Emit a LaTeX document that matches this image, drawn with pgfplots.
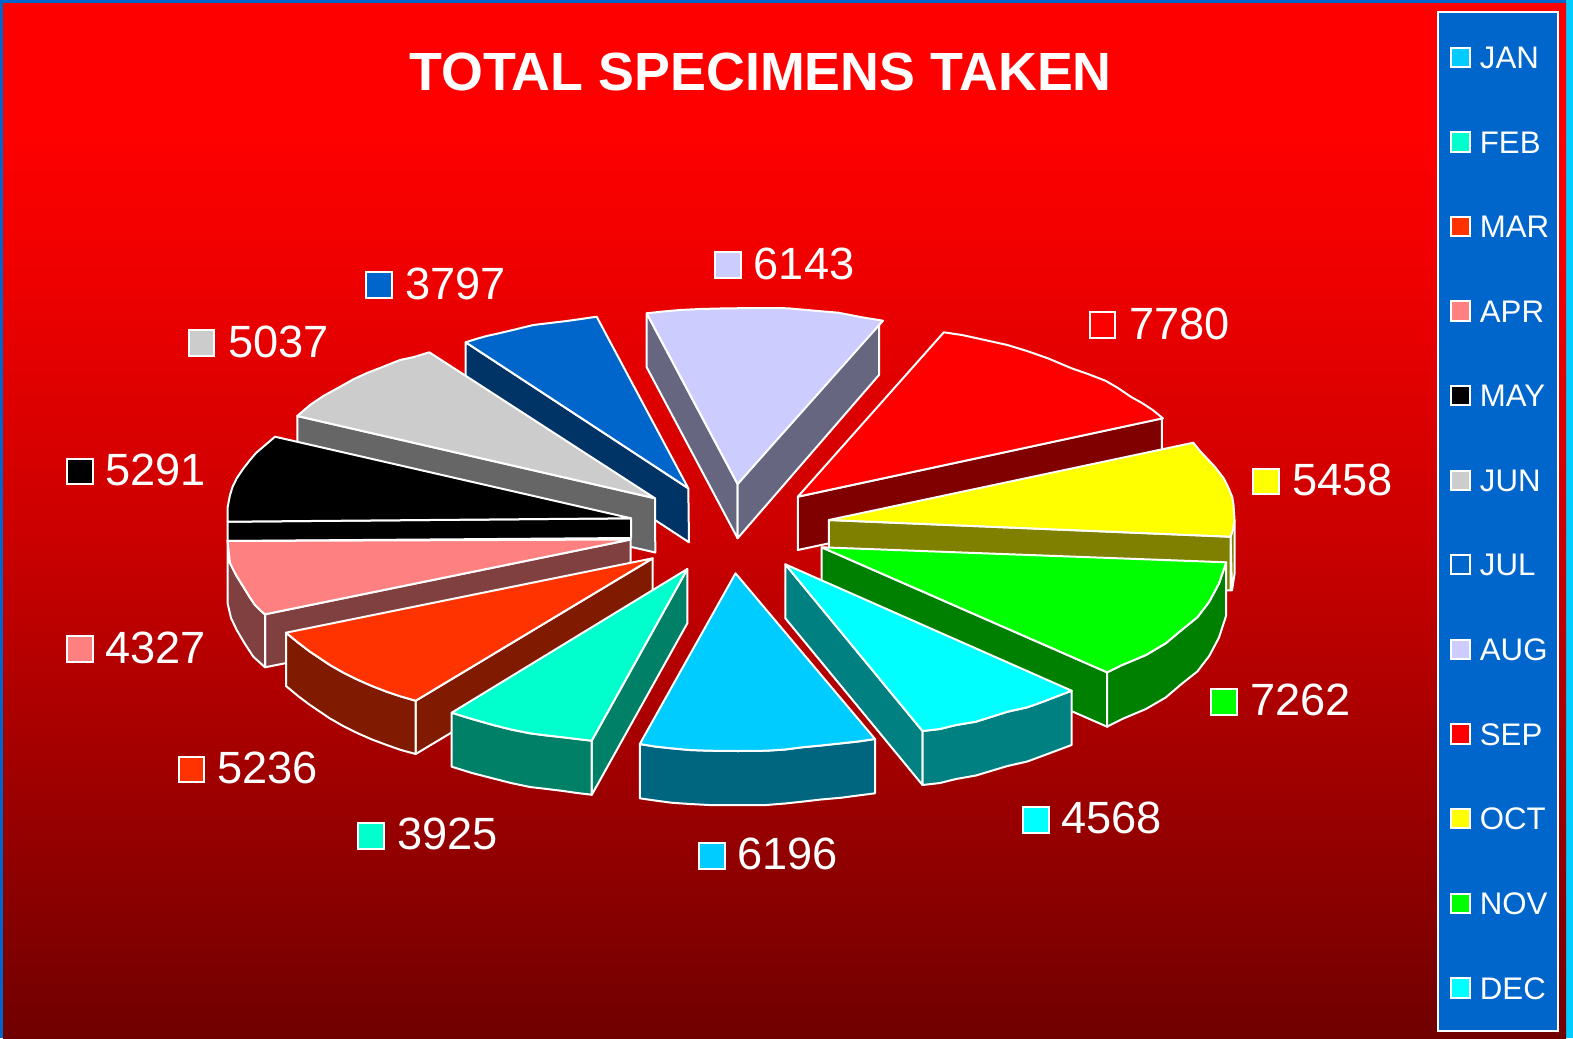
\documentclass[border=0pt]{standalone}
\usepackage{pgfplots}
\pgfplotsset{compat=1.18}
\usepackage{fontspec}
\setmainfont{Liberation Sans}

% slice colours
\definecolor{cjan}{HTML}{00CCFF}\definecolor{sjan}{HTML}{006680}
\definecolor{cfeb}{HTML}{00FFCC}\definecolor{sfeb}{HTML}{008066}
\definecolor{cmar}{HTML}{FF3300}\definecolor{smar}{HTML}{801A00}
\definecolor{capr}{HTML}{FF8080}\definecolor{sapr}{HTML}{804040}
\definecolor{cmay}{HTML}{000000}
\definecolor{cjun}{HTML}{CCCCCC}\definecolor{sjun}{HTML}{666666}
\definecolor{cjul}{HTML}{0066CC}\definecolor{sjul}{HTML}{003366}
\definecolor{caug}{HTML}{CCCCFF}\definecolor{saug}{HTML}{666680}
\definecolor{csep}{HTML}{FF0000}\definecolor{ssep}{HTML}{800000}
\definecolor{coct}{HTML}{FFFF00}\definecolor{soct}{HTML}{808000}
\definecolor{cnov}{HTML}{00FF00}\definecolor{snov}{HTML}{008000}
\definecolor{cdec}{HTML}{00FFFF}\definecolor{sdec}{HTML}{008080}

% background ramp
\definecolor{bga}{RGB}{112,0,0}
\definecolor{bgb}{RGB}{152,0,0}
\definecolor{bgc}{RGB}{204,0,0}
\definecolor{bgd}{RGB}{238,0,0}
\definecolor{bge}{RGB}{255,0,0}
\pgfdeclareverticalshading{bgramp}{100bp}{color(0bp)=(bga); color(25bp)=(bga);
  color(35.5bp)=(bgb); color(49.6bp)=(bgc); color(61.6bp)=(bgd); color(69.4bp)=(bge);
  color(100bp)=(bge)}

\tikzset{vlab/.style={anchor=west,inner sep=0,text=white,font=\fontsize{22.6}{24}\selectfont}}

\begin{document}
\begin{tikzpicture}
\begin{axis}[
    width=786.5pt,height=519pt,scale only axis,
    xmin=0,xmax=1573,ymin=0,ymax=1038,
    y dir=reverse,
    hide axis,
    slice/.style={fill=#1,draw=white,line width=1pt,line join=round},
    lkey/.style={only marks,mark=square*,mark size=6.3pt,
      mark options={fill=#1,draw=white,line width=1pt}},
    mkey/.style={only marks,mark=square*,mark size=4.8pt,
      mark options={fill=#1,draw=white,line width=1pt}},
]
% frame and background
\fill[cjul] (0,0) rectangle (1573,1038);
\fill[cjan] (1566,0) rectangle (1573,1038);
\draw[cjan!70!white,line width=0.5pt] (42,3.5) -- (1566,3.5);
\fill[shading=bgramp] (3,4) rectangle (1566,1038);

\node[text=white,font=\bfseries\fontsize{26.9}{30}\selectfont] at (760.5,72) {TOTAL SPECIMENS TAKEN};

% AUG
\addplot[slice=saug] coordinates {(646.7,313.3) (737.6,484) (737.6,538.3) (646.7,367.3)} -- cycle;
\addplot[slice=saug] coordinates {(737.6,484) (879,321) (879,375) (737.6,538.3)} -- cycle;
\addplot[slice=caug] coordinates {(737.6,484) (646.7,313.3) (663,311.5) (680,310) (700,309) (720,308.5) (754,308) (773,308) (787.6,308.3) (814.7,310.7) (838.3,312.7) (862,317.3) (883,320.7)} -- cycle;
% JUL
\addplot[slice=sjul] coordinates {(465.7,342.3) (688.3,488.3) (689,542.3) (465.7,396)} -- cycle;
\addplot[slice=cjul] coordinates {(688.3,488.3) (465.7,342.3) (476,339) (486.7,336) (498,333.5) (510,330.7) (521,328) (533.3,325) (550,323) (566.7,321) (581,319) (596.7,316.7)} -- cycle;
% JUN
\addplot[slice=sjun] coordinates {(297.3,416) (655,498.3) (655.3,552.5) (297.3,470)} -- cycle;
\addplot[slice=cjun] coordinates {(655,498.3) (297.3,416) (310,405) (323.3,396) (343.3,385) (353.3,379.3) (367,373) (381.7,367.3) (400,360) (414,357) (429.3,352.3)} -- cycle;
% MAY
\addplot[slice=cmay] coordinates {(227.7,521.7) (631,518.3) (631,538) (227.7,541)} -- cycle;
\addplot[slice=cmay] coordinates {(631,518.3) (275,436.7) (263.3,446.7) (256,453) (250,460) (243,469) (236.7,478.3) (232.5,487) (230,495) (227.7,506.7) (227.7,521.7)} -- cycle;
% APR
\addplot[slice=sapr] coordinates {(265,614.3) (630.7,539.5) (630.7,594) (265,667.3)} -- cycle;
\addplot[slice=sapr] coordinates {(227.5,541) (230,563) (236,575) (243.3,586.7) (249,596) (255,605) (260,610) (265,614.3) (265,667.3) (253.3,656.7) (245,644) (236.7,630) (231,618) (227.5,603)} -- cycle;
\addplot[slice=capr] coordinates {(630.7,539.5) (227.5,541) (230,563) (236,575) (243.3,586.7) (249,596) (255,605) (260,610) (265,614.3)} -- cycle;
% MAR
\addplot[slice=smar] coordinates {(415.7,700.7) (652.7,558.3) (652.7,612) (415.7,754)} -- cycle;
\addplot[slice=smar] coordinates {(286,632.7) (298,642.5) (310,651.7) (330,665) (344,673) (358.3,680) (372,686) (386.7,691.7) (401,696.5) (415.7,700.7) (415.7,754) (401,750) (386.7,745) (372,739.5) (358.3,733.5) (344,726.5) (330,718.5) (310,705) (298,696) (286,686)} -- cycle;
\addplot[slice=cmar] coordinates {(652.7,558.3) (286,632.7) (298,642.5) (310,651.7) (330,665) (344,673) (358.3,680) (372,686) (386.7,691.7) (401,696.5) (415.7,700.7)} -- cycle;
% FEB
\addplot[slice=sfeb] coordinates {(591.7,740.7) (687.3,569) (687.3,623.3) (591.7,795)} -- cycle;
\addplot[slice=sfeb] coordinates {(451.7,712.7) (472,719) (493.3,725) (511,729.5) (530,733.3) (547,735.5) (563.3,737.3) (577,739) (591.7,740.7) (591.7,794.7) (577,793) (563.3,791) (547,789) (530,787) (511,783) (493.3,778.5) (472,773) (451.7,766.7)} -- cycle;
\addplot[slice=cfeb] coordinates {(687.3,569) (451.7,712.7) (472,719) (493.3,725) (511,729.5) (530,733.3) (547,735.5) (563.3,737.3) (577,739) (591.7,740.7)} -- cycle;
% SEP
\addplot[slice=ssep] coordinates {(797.8,496.7) (1161.8,418.3) (1161.8,472.3) (797.8,550)} -- cycle;
\addplot[slice=csep] coordinates {(797.8,496.7) (943.8,332.3) (962,335) (980.3,339) (1007.4,345) (1027,351) (1047.9,358.3) (1071.6,368.3) (1088,374) (1105.4,380.7) (1118,388) (1130.7,396.7) (1142,403) (1152.7,410) (1162.9,418.3)} -- cycle;
% OCT
\addplot[slice=soct] coordinates {(1234.5,520) (1234.5,574) (1232,590.5) (1230.5,536.7)} -- cycle;
\addplot[slice=soct] coordinates {(828.9,520) (1230.5,536.7) (1230.5,590.5) (828.9,574)} -- cycle;
\addplot[slice=coct] coordinates {(828.9,520) (1193.3,442.7) (1200,451) (1206.8,458.3) (1215,467) (1223.7,478.3) (1228,487) (1232.2,496.7) (1233.5,505) (1234.5,520) (1233,530) (1230.5,536.7)} -- cycle;
% NOV
\addplot[slice=snov] coordinates {(821.7,547.3) (1107.1,672.3) (1107.1,726.7) (821.7,601.7)} -- cycle;
\addplot[slice=snov] coordinates {(1107.1,672.3) (1122.2,665) (1145.9,655) (1165.7,643.3) (1181.5,630) (1197.3,617.3) (1209.2,601.7) (1219,583.3) (1226.2,562.3) (1226,616) (1219,637.5) (1209.2,656) (1197.3,671.5) (1181.5,684) (1165.7,697.5) (1145.9,709) (1122.2,719) (1107.1,726.7)} -- cycle;
\addplot[slice=cnov] coordinates {(821.7,547.3) (1226.2,562.3) (1219,583.3) (1209.2,601.7) (1197.3,617.3) (1181.5,630) (1165.7,643.3) (1145.9,655) (1122.2,665) (1107.1,672.3)} -- cycle;
% DEC
\addplot[slice=sdec] coordinates {(785.3,564.3) (922.5,731) (922.5,785) (785.3,618.3)} -- cycle;
\addplot[slice=sdec] coordinates {(922.5,731) (940,729) (956.1,725) (975.9,721.7) (1007.5,711.7) (1027.3,707.3) (1043,701.7) (1071.6,690.7) (1071.6,745) (1043,755.7) (1027.3,761.5) (1007.5,766) (975.9,775.5) (956.1,779) (940,783) (922.5,785)} -- cycle;
\addplot[slice=cdec] coordinates {(785.3,564.3) (1071.6,690.7) (1043,701.7) (1027.3,707.3) (1007.5,711.7) (975.9,721.7) (956.1,725) (940,729) (922.5,731)} -- cycle;
% JAN
\addplot[slice=sjan] coordinates {(639.8,744) (655,746.5) (671.4,748.3) (690,750) (709,750.7) (738,751) (766.3,750.7) (785,749.5) (801.9,747.3) (821,745.5) (841.4,743.3) (858,741.5) (875,739) (875,793.3) (858,795.5) (841.4,797.7) (821,799.5) (801.9,801.7) (785,803.5) (766.3,805) (738,805) (709,805) (690,804) (671.4,802.7) (655,800.5) (639.8,798.3)} -- cycle;
\addplot[slice=cjan] coordinates {(735.5,573.3) (875,739) (858,741.5) (841.4,743.3) (821,745.5) (801.9,747.3) (785,749.5) (766.3,750.7) (738,751) (709,750.7) (690,750) (671.4,748.3) (655,746.5) (639.8,744)} -- cycle;

% value labels
\addplot[lkey=caug] coordinates {(728,265)};
\node[vlab] at (753.4,264) {6143};
\addplot[lkey=csep] coordinates {(1102.5,325)};
\node[vlab] at (1128.6,324) {7780};
\addplot[lkey=coct] coordinates {(1266,481.5)};
\node[vlab] at (1292,480) {5458};
\addplot[lkey=cnov] coordinates {(1224,702)};
\node[vlab] at (1250,700) {7262};
\addplot[lkey=cdec] coordinates {(1036,820)};
\node[vlab] at (1061,818) {4568};
\addplot[lkey=cjan] coordinates {(712,856)};
\node[vlab] at (737,854) {6196};
\addplot[lkey=cfeb] coordinates {(371,836)};
\node[vlab] at (397,834) {3925};
\addplot[lkey=cmar] coordinates {(191.6,769.5)};
\node[vlab] at (217,768) {5236};
\addplot[lkey=capr] coordinates {(80,649)};
\node[vlab] at (105,648) {4327};
\addplot[lkey=cmay] coordinates {(80,471.5)};
\node[vlab] at (105,470) {5291};
\addplot[lkey=cjun] coordinates {(201.6,343)};
\node[vlab] at (228,342) {5037};
\addplot[lkey=cjul] coordinates {(379,285)};
\node[vlab] at (405,284) {3797};

% legend panel
\draw[fill=cjul,draw=white,line width=1pt] (1437.6,12.3) rectangle (1558,1030.7);
\addplot[mkey=cjan] coordinates {(1460.7,57.3)};
\addplot[mkey=cfeb] coordinates {(1460.7,141.9)};
\addplot[mkey=cmar] coordinates {(1460.7,226.5)};
\addplot[mkey=capr] coordinates {(1460.7,311)};
\addplot[mkey=cmay] coordinates {(1460.7,395.7)};
\addplot[mkey=cjun] coordinates {(1460.7,480.3)};
\addplot[mkey=cjul] coordinates {(1460.7,564.8)};
\addplot[mkey=caug] coordinates {(1460.7,649.5)};
\addplot[mkey=csep] coordinates {(1460.7,734)};
\addplot[mkey=coct] coordinates {(1460.7,818.7)};
\addplot[mkey=cnov] coordinates {(1460.7,903.3)};
\addplot[mkey=cdec] coordinates {(1460.7,987.9)};
\foreach \m/\y in {JAN/57.8,FEB/142.4,MAR/227,APR/311.5,MAY/396.2,JUN/480.8,JUL/565.3,AUG/650,SEP/734.5,OCT/819.2,NOV/903.8,DEC/988.4}{
  \edef\tmp{\noexpand\node[anchor=west,inner sep=0,text=white,font=\noexpand\fontsize{15.6}{17}\noexpand\selectfont] at (axis cs:1479.5,\y) {\m};}
  \tmp
}
\end{axis}
\end{tikzpicture}
\end{document}
